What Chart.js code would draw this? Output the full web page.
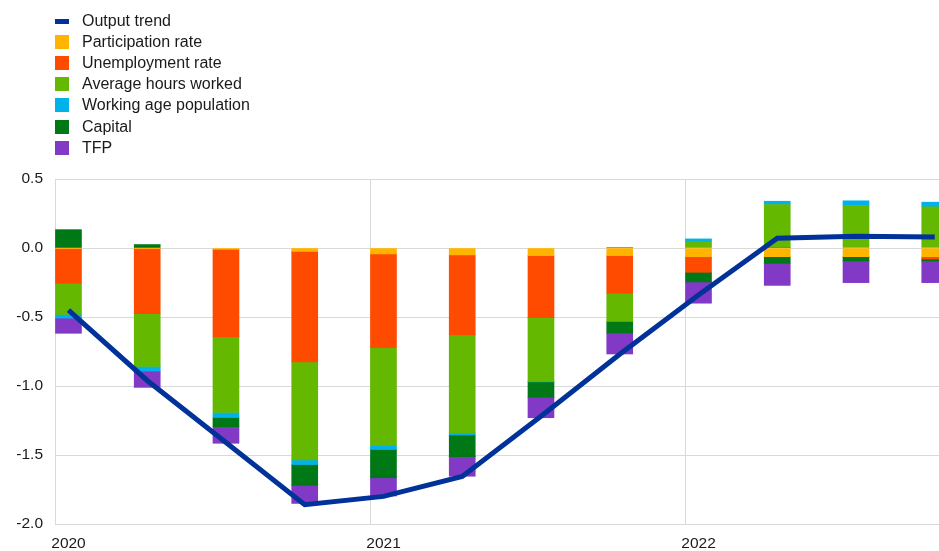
<!DOCTYPE html>
<html><head><meta charset="utf-8">
<script src="https://cdn.jsdelivr.net/npm/chart.js@4.4.1/dist/chart.umd.min.js"></script>
<style>
html,body{margin:0;padding:0;background:#fff;}
#wrap{position:relative;width:939px;height:551px;overflow:hidden;}
#c{position:absolute;left:0;top:0;}
#legend{position:absolute;left:0;top:0;font-family:"Liberation Sans",Arial,sans-serif;font-size:16px;color:#1a1a1a;}
.item{position:absolute;left:55px;height:20px;display:flex;align-items:center;white-space:nowrap;}
.sw{width:14px;height:14px;margin-right:13px;flex:none;}
</style></head>
<body><div id="wrap"><canvas id="c" width="939" height="551"></canvas><div id="legend"></div></div>
<script>
const categories = ['2020Q1','2020Q2','2020Q3','2020Q4','2021Q1','2021Q2','2021Q3','2021Q4','2022Q1','2022Q2','2022Q3','2022Q4'];
const yearLabels = ['2020','2021','2022'];
const outputTrend   = [-0.45, -0.96, -1.41, -1.86, -1.80, -1.655, -1.22, -0.77, -0.34, 0.07, 0.085, 0.08];
const participation = [-0.005, -0.005, -0.01, -0.025, -0.043, -0.05, -0.055, -0.055, -0.063, -0.063, -0.063, -0.063];
const unemployment  = [-0.25, -0.47, -0.635, -0.80, -0.68, -0.58, -0.45, -0.272, -0.113, 0.005, 0.0, -0.017];
const avgHours      = [-0.226, -0.383, -0.547, -0.71, -0.71, -0.708, -0.46, -0.205, 0.046, 0.31, 0.308, 0.298];
const workingAge    = [-0.027, -0.034, -0.036, -0.034, -0.027, -0.017, -0.005, 0.005, 0.02, 0.024, 0.034, 0.034];
const capital       = [0.133, 0.025, -0.067, -0.152, -0.205, -0.157, -0.113, -0.084, -0.07, -0.048, -0.031, -0.014];
const tfp           = [-0.11, -0.118, -0.12, -0.13, -0.132, -0.142, -0.147, -0.152, -0.154, -0.16, -0.157, -0.157];

const SHIFT = 0.171;       // bar position inside each quarter slot
const X_MAX = 11.225;      // visible range in quarter units
const FONT = '"Liberation Sans", Arial, sans-serif';
const TXT = '#1a1a1a';
const GRID = '#d9d9d9';

const toXY = arr => arr.map((v, i) => ({x: i + SHIFT, y: v, c: categories[i]}));

const barSeries = [
  {label: 'Participation rate', data: participation, color: '#FFB400'},
  {label: 'Unemployment rate', data: unemployment, color: '#FF4B00'},
  {label: 'Average hours worked', data: avgHours, color: '#65B800'},
  {label: 'Working age population', data: workingAge, color: '#00B1EA'},
  {label: 'Capital', data: capital, color: '#007816'},
  {label: 'TFP', data: tfp, color: '#8139C6'}
];

const datasets = [
  {type: 'line', label: 'Output trend', data: toXY(outputTrend), borderColor: '#003299', backgroundColor: '#003299',
   borderWidth: 5, pointRadius: 0, tension: 0, fill: false, stack: 'line', order: 0, borderJoinStyle: 'miter'},
  ...barSeries.map(s => ({type: 'bar', label: s.label, data: toXY(s.data), backgroundColor: s.color,
   borderWidth: 0, barThickness: 26, stack: 'bars', order: 1}))
];

const chart = new Chart(document.getElementById('c').getContext('2d'), {
  data: {datasets},
  options: {
    responsive: false, animation: false, devicePixelRatio: 1,
    layout: {padding: {top: 179, left: 0, right: 0, bottom: 0}},
    plugins: {legend: {display: false}, tooltip: {enabled: false}},
    scales: {
      x: {
        type: 'linear', min: 0, max: X_MAX, offset: false,
        grid: {color: GRID, drawTicks: false, offset: false, lineWidth: 1},
        border: {color: GRID},
        afterBuildTicks: s => { s.ticks = yearLabels.map((l, i) => ({value: i * 4})); },
        ticks: {callback: (v, i) => yearLabels[i], labelOffset: 13.5, padding: 10, maxRotation: 0,
                autoSkip: false, font: {family: FONT, size: 15.5}, color: TXT},
        afterFit: s => { s.height = 27; }
      },
      y: {
        stacked: true, min: -2, max: 0.5,
        grid: {color: GRID, drawTicks: false, lineWidth: 1},
        border: {color: GRID},
        ticks: {stepSize: 0.5, callback: v => Number(v).toFixed(1), padding: 12,
                font: {family: FONT, size: 15.5}, color: TXT},
        afterFit: s => { s.width = 55; }
      }
    }
  }
});

// HTML legend built from the chart's datasets
const legend = document.getElementById('legend');
chart.data.datasets.forEach((ds, i) => {
  const item = document.createElement('div');
  item.className = 'item';
  item.style.top = (11 + i * 21.1) + 'px';
  const sw = document.createElement('span');
  sw.className = 'sw';
  sw.style.background = ds.type === 'line' ? ds.borderColor : ds.backgroundColor;
  if (ds.type === 'line') { sw.style.height = '5px'; }
  const t = document.createElement('span');
  t.textContent = ds.label;
  item.appendChild(sw); item.appendChild(t);
  legend.appendChild(item);
});
</script>
</body></html>
